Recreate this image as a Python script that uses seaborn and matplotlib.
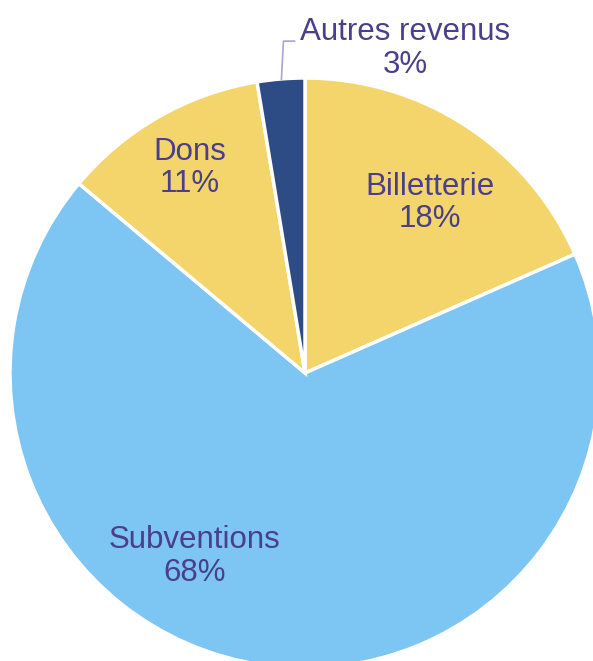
import matplotlib
matplotlib.use("Agg")
import matplotlib.pyplot as plt
import seaborn as sns

sns.set_theme(style="white")
plt.rcParams["font.family"] = ["Liberation Sans", "DejaVu Sans"]

categories = ["Billetterie", "Subventions", "Dons", "Autres revenus"]
shares = [18.4, 67.7, 11.3, 2.6]
colors = ["#F3D56C", "#7DC5F2", "#F3D56C", "#2D4C86"]
text_color = "#4A3F8C"

fig = plt.figure(figsize=(5.93, 6.61), dpi=100)
ax = fig.add_axes([0, 0, 1, 1])

ax.pie(shares, colors=colors, startangle=90, counterclock=False,
       radius=1.0, wedgeprops=dict(edgecolor="white", linewidth=2.5))

# label placement (axes data units, pie radius = 1)
label_pos = {
    "Billetterie": (0.424, 0.576),
    "Subventions": (-0.375, -0.622),
    "Dons": (-0.39, 0.695),
    "Autres revenus": (0.34, 1.10),
}
for cat, val in zip(categories, shares):
    x, y = label_pos[cat]
    ax.text(x, y, f"{cat}\n{val:.0f}%", ha="center", va="center",
            fontsize=22.5, color=text_color, linespacing=1.12)

# leader line for the small slice
ax.plot([-0.08, -0.073, -0.035], [0.995, 1.125, 1.125], color="#A9A3D6", lw=1.2)

ax.set_xlim(-305 / 295, (593 - 305) / 295)
ax.set_ylim(-288 / 295, 373 / 295)
ax.set_aspect("equal")
ax.axis("off")

fig.savefig("out.png", dpi=100)
